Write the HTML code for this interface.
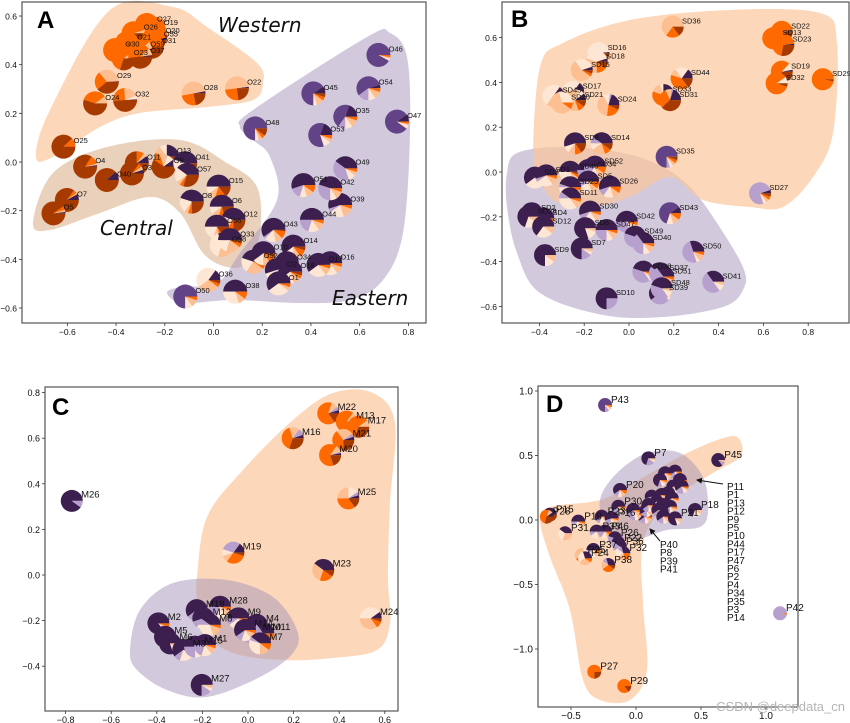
<!DOCTYPE html>
<html><head><meta charset="utf-8">
<style>
html,body{margin:0;padding:0;background:#fff;}
svg{display:block;font-family:"Liberation Sans",sans-serif;}
</style></head>
<body>
<svg id="fig" width="850" height="723" viewBox="0 0 850 723" xmlns="http://www.w3.org/2000/svg"></svg>
<script>
// slice order: dark purple, mid purple, light purple, very light peach, peach, orange, brown
const sliceColors = ['#3d1f4f','#634387','#b7a0ce','#fde6d3','#fdbf91','#ff6a00','#a73a00'];

// ---------- Panel A ----------
const aNames = ['O27','O19','O26','O20','O21','O55','O31','O30','O23','O59','O37','O29','O24','O32','O28','O22','O25',
 'O4','O11','O40','O3','O7','O5','O13','O9','O41','O57','O15','O8','O6','O12','O56','O58','O33',
 'O50','O36','O38','O52','O10','O2','O43','O14','O34','O18','O1','O16','O17','O44','O39','O51','O42','O49','O48','O53','O35','O45','O54','O46','O47'];
const aX = [-0.274,-0.246,-0.328,-0.239,-0.356,-0.246,-0.253,-0.404,-0.369,-0.301,-0.301,-0.438,-0.486,-0.363,-0.082,0.096,-0.616,
 -0.527,-0.315,-0.438,-0.335,-0.602,-0.657,-0.192,-0.205,-0.116,-0.109,0.021,-0.089,0.034,0.082,0.014,0.034,0.068,
 -0.116,-0.021,0.089,0.164,0.205,0.260,0.246,0.328,0.301,0.315,0.267,0.479,0.431,0.404,0.520,0.369,0.479,0.541,0.171,0.438,0.541,0.410,0.636,0.677,0.753];
const aY = [0.563,0.549,0.529,0.515,0.488,0.501,0.474,0.460,0.426,0.460,0.433,0.330,0.241,0.255,0.282,0.303,0.063,
 -0.019,-0.005,-0.074,-0.047,-0.156,-0.211,0.022,-0.019,-0.005,-0.053,-0.101,-0.163,-0.184,-0.238,-0.266,-0.341,-0.321,
 -0.553,-0.485,-0.533,-0.410,-0.375,-0.444,-0.279,-0.348,-0.416,-0.451,-0.499,-0.416,-0.423,-0.238,-0.177,-0.095,-0.108,-0.026,0.138,0.111,0.186,0.282,0.303,0.440,0.166];
const aComp = [
 [0,0,0,0,0,.9,.1],[0,0,0,0,0,.9,.1],[0,0,0,0,.05,.8,.15],[.02,0,0,0,0,.7,.28],[0,0,0,0,0,.85,.15],[.03,0,0,0,0,.8,.17],[0,0,0,0,0,.6,.4],[0,0,0,0,0,.8,.2],[0,0,0,0,.1,.6,.3],[.02,0,0,0,.1,.5,.38],[.02,0,0,0,.1,.4,.48],[.01,0,0,0,.35,.25,.39],[0,0,0,0,.1,.35,.55],[.01,0,0,.05,.2,.25,.49],[.03,0,0,0,.5,.25,.22],[.02,0,0,0,.5,.25,.23],[0,0,0,0,0,.12,.88],
 [.02,0,0,0,.02,.12,.84],[.1,0,0,0,.05,.1,.75],[.12,0,0,0,0,0,.88],[.05,0,0,0,.05,.05,.85],[.08,0,0,0,.02,.05,.85],[.02,0,0,0,.03,.05,.9],[.25,0,0,.1,.1,.05,.5],[.1,0,0,.1,.1,.1,.6],[.45,0,0,.2,.05,.05,.25],[.4,0,0,.2,.05,.05,.3],[.5,0,0,.1,.1,.15,.15],[.45,0,0,.2,.05,.05,.25],[.5,0,0,.1,.1,.1,.2],[.45,0,0,.1,.1,.1,.25],[.5,0,0,.2,.1,.05,.15],[.3,0,0,.4,.2,.05,.05],[.5,0,0,.2,.2,.05,.05],
 [0,.75,0,.1,.1,.05,0],[.15,0,0,.45,.3,.05,.05],[.5,0,0,.3,.1,.1,0],[.45,0,0,.2,.25,.1,0],[.6,0,0,.15,.1,.1,.05],[.55,0,0,.3,.1,.05,0],[.6,0,.03,.15,.1,.1,.02],[.6,0,0,.15,.1,.1,.05],[.6,0,0,.15,.1,.1,.05],[.6,0,0,.2,.1,.05,.05],[.6,0,0,.3,.05,.05,0],[.55,0,0,.3,.1,.05,0],[.6,0,0,.25,.1,.05,0],[.5,0,.2,.15,.1,.05,0],[.55,0,.05,.2,.15,.05,0],[.55,0,.15,.1,.1,.1,0],[.45,0,.3,.1,.1,.05,0],[.4,0,.4,.1,.05,.05,0],[0,.75,0,.05,.05,.05,.1],[.2,.6,0,.1,.05,.05,0],[.2,.45,.1,.1,.1,.05,0],[.1,.65,0,.05,.1,.05,.05],[.05,.55,.15,.1,.1,.05,0],[0,.92,0,.03,.02,.03,0],[.1,.8,0,.05,.02,.03,0]];
const aTicksX = [-0.6,-0.4,-0.2,0.0,0.2,0.4,0.6,0.8];
const aTicksY = [0.6,0.4,0.2,0.0,-0.2,-0.4,-0.6];

// ---------- Panel B ----------
const bNames = ['SD36','SD13','SD22','SD23','SD19','SD32','SD29','SD16','SD18','SD15','SD44','SD33','SD31','SD17','SD21','SD45','SD20','SD24','SD8','SD14','SD35','SD27',
 'SD3','SD1','SD46','SD34','SD52','SD5','SD25','SD26','SD11','SD30','SD2','SD4','SD28','SD12','SD6','SD9','SD7','SD47','SD42','SD49','SD40','SD43','SD50','SD38','SD37','SD51','SD10','SD39','SD48','SD41'];
const bX = [0.195,0.644,0.682,0.689,0.682,0.659,0.865,-0.137,-0.144,-0.211,0.235,0.153,0.183,-0.249,-0.241,-0.338,-0.300,-0.092,-0.241,-0.122,0.168,0.585,
 -0.420,-0.370,-0.263,-0.182,-0.152,-0.182,-0.263,-0.085,-0.263,-0.174,-0.434,-0.383,-0.449,-0.383,-0.196,-0.375,-0.211,-0.100,-0.010,0.027,0.064,0.183,0.287,0.064,0.138,0.153,-0.100,0.138,0.146,0.376];
const bY = [0.649,0.597,0.626,0.567,0.448,0.396,0.414,0.530,0.492,0.455,0.418,0.344,0.321,0.358,0.321,0.340,0.310,0.299,0.128,0.128,0.068,-0.095,
 -0.025,-0.015,0.001,0.009,0.024,-0.043,-0.068,-0.065,-0.118,-0.177,-0.184,-0.207,-0.199,-0.244,-0.251,-0.371,-0.341,-0.259,-0.222,-0.289,-0.318,-0.184,-0.356,-0.445,-0.452,-0.467,-0.564,-0.542,-0.519,-0.490];
const bComp = [
 [0,0,0,0,.65,.2,.15],[0,0,0,0,0,.95,.05],[.02,0,0,0,0,.9,.08],[.02,0,0,0,0,.7,.28],[.03,0,0,.1,0,.6,.27],[0,0,0,.1,0,.85,.05],[0,0,0,0,0,.97,.03],[.02,0,0,.5,.15,.2,.13],[.05,0,0,.4,.3,.15,.1],[.05,0,0,.3,.55,.05,.05],[.15,0,0,.2,.1,.4,.15],[.25,0,0,.05,.15,.3,.25],[.2,0,.02,0,.1,.3,.38],[.15,0,0,.3,.4,.1,.05],[.1,0,0,.1,.6,.1,.1],[.15,0,0,.5,.3,.05,0],[0,0,0,.3,.6,.1,0],[.2,0,.03,.1,.4,.2,.07],[.55,0,0,.1,.1,.1,.15],[.4,0,.1,.1,.2,.1,.1],[0,.75,.05,.05,.05,.05,.05],[.05,0,.75,.05,.05,.05,.05],
 [.6,0,0,.3,.05,.05,0],[.55,0,.05,.25,.1,.05,0],[.5,0,0,.3,.1,.05,.05],[.5,0,.1,.2,.1,.1,0],[.5,0,.15,.15,.1,.1,0],[.5,0,.1,.2,.1,.1,0],[.45,0,.05,.35,.1,.05,0],[.55,0,.1,.15,.1,.1,0],[.4,0,.1,.35,.1,.05,0],[.55,0,.1,.2,.1,.05,0],[.75,0,0,.15,.05,.05,0],[.7,0,0,.15,.1,.05,0],[.7,0,0,.2,.1,0,0],[.65,0,0,.25,.1,0,0],[.8,0,0,.15,.05,0,0],[.75,0,0,.15,.1,0,0],[.75,0,.15,.05,.05,0,0],[.5,0,.25,.1,.1,.05,0],[.5,0,.3,.1,.05,.05,0],[.45,0,.3,.1,.1,.05,0],[.35,0,.4,.1,.1,.05,0],[.1,.6,0,.1,.1,.1,0],[.3,0,.5,.05,.1,.05,0],[.45,0,.4,.05,.05,.05,0],[.4,0,.4,.1,.05,.05,0],[.35,0,.45,.1,.05,.05,0],[.75,0,.25,0,0,0,0],[.6,0,.3,.05,.05,0,0],[.45,0,.4,.1,.05,0,0],[.35,0,.5,.1,.05,0,0]];
const bTicksX = [-0.4,-0.2,0.0,0.2,0.4,0.6,0.8];
const bTicksY = [0.6,0.4,0.2,0.0,-0.2,-0.4,-0.6];

// ---------- Panel C ----------
const cNames = ['M26','M22','M13','M17','M16','M21','M20','M25','M19','M23','M24','M18','M28','M12','M8','M9','M4','M10','M11','M14','M7','M2','M5','M6','M3','M15','M1','M27'];
const cX = [-0.773,0.352,0.433,0.484,0.196,0.418,0.360,0.440,-0.064,0.330,0.538,-0.225,-0.123,-0.196,-0.167,-0.042,0.038,0.023,0.067,-0.013,0.053,-0.393,-0.364,-0.342,-0.284,-0.232,-0.189,-0.203];
const cY = [0.325,0.709,0.673,0.650,0.600,0.592,0.526,0.336,0.098,0.022,-0.190,-0.154,-0.139,-0.190,-0.219,-0.190,-0.219,-0.256,-0.256,-0.241,-0.300,-0.212,-0.271,-0.300,-0.329,-0.314,-0.307,-0.482];
const cComp = [
 [.9,0,.1,0,0,0,0],[.05,0,.05,0,.1,.65,.15],[0,0,0,.05,.1,.75,.1],[0,0,0,0,.1,.6,.3],[.05,0,.1,0,.15,.4,.3],[.05,0,.05,0,.25,.4,.25],[.03,0,.02,0,.1,.65,.2],[.05,0,.05,.15,.25,.35,.15],[.15,0,.3,.1,.1,.3,.05],[.4,0,0,0,.3,.2,.1],[.1,0,0,.4,.35,.1,.05],
 [.6,0,.1,.15,.1,.05,0],[.5,0,.2,.15,.1,.05,0],[.55,0,.1,.2,.1,.05,0],[.4,0,.1,.3,.15,.05,0],[.5,0,.1,.2,.15,.05,0],[.5,0,.2,.1,.1,.1,0],[.5,0,.2,.15,.1,.05,0],[.35,0,.2,.2,.15,.1,0],[.6,0,.1,.15,.1,.05,0],[.4,0,.05,.3,.15,.1,0],[.85,0,0,.05,.05,.05,0],[.75,0,0,.1,.1,.05,0],[.8,0,0,.1,.1,0,0],[.6,0,.1,.2,.1,0,0],[.5,0,.25,.15,.1,0,0],[.5,0,.2,.15,.1,.05,0],[.75,0,.15,.05,.05,0,0]];
const cTicksX = [-0.8,-0.6,-0.4,-0.2,0.0,0.2,0.4,0.6];
const cTicksY = [0.8,0.6,0.4,0.2,0.0,-0.2,-0.4];

// ---------- Panel D ----------
const dNames = ['P43','P7','P45','P20','P30','P15','P28','P19','P23','P16','P31','P33','P46','P26','P22','P36','P32','P37','P25','P24','P38','P40','P8','P39','P41',
 'P11','P1','P13','P12','P9','P5','P10','P44','P17','P47','P6','P2','P4','P34','P35','P3','P14','P21','P18','P42','P27','P29'];
const dX = [-0.238,0.095,0.633,-0.123,-0.136,-0.662,-0.687,-0.444,-0.264,-0.187,-0.546,-0.303,-0.238,-0.162,-0.136,-0.123,-0.097,-0.328,-0.418,-0.392,-0.213,0.069,-0.008,-0.021,0.082,
 0.300,0.223,0.338,0.185,0.287,0.351,0.248,0.197,0.275,0.121,0.159,0.210,0.262,0.095,0.197,0.172,0.210,0.300,0.454,1.108,-0.321,-0.090];
const dY = [0.891,0.478,0.465,0.233,0.103,0.041,0.026,-0.013,0.026,0.013,-0.103,-0.090,-0.090,-0.142,-0.181,-0.207,-0.258,-0.233,-0.271,-0.297,-0.349,0.026,0.052,0.078,0.078,
 0.375,0.362,0.310,0.310,0.259,0.259,0.207,0.194,0.168,0.181,0.142,0.116,0.103,0.116,0.064,0.078,0.026,0.013,0.078,-0.723,-1.176,-1.287];
const dComp = [
 [0,.75,.1,.05,.05,.05,0],[.7,0,.2,.05,.05,0,0],[.85,0,.1,0,.05,0,0],[.6,0,.1,.1,.1,.1,0],[.6,0,.15,.1,.1,.05,0],[.4,0,0,0,.05,.05,.5],[.1,0,0,0,.1,.5,.3],[.5,0,.1,.2,.15,.05,0],[.6,0,.1,.15,.1,.05,0],[.55,0,.15,.15,.1,.05,0],[.4,0,0,.3,.3,0,0],[.5,0,.1,.2,.1,.1,0],[.5,0,.15,.15,.1,.1,0],[.45,0,.2,.15,.1,.1,0],[.45,0,.2,.15,.1,.1,0],[.4,0,.2,.2,.1,.1,0],[.3,0,.1,.2,.2,.2,0],[.5,0,.1,.2,.1,.1,0],[0,0,0,.2,.4,.4,0],[.3,0,0,.3,.3,.1,0],[.3,0,.1,0,.2,.3,.1],[.6,0,.15,.1,.1,.05,0],[.6,0,.15,.1,.1,.05,0],[.6,0,.15,.1,.1,.05,0],[.6,0,.15,.1,.1,.05,0],
 [.6,0,.15,.1,.1,.05,0],[.65,0,.1,.1,.1,.05,0],[.6,0,.2,.1,.05,.05,0],[.7,0,.1,.1,.05,.05,0],[.6,0,.15,.1,.1,.05,0],[.6,0,.2,.1,.05,.05,0],[.65,0,.15,.1,.05,.05,0],[.6,0,.15,.1,.1,.05,0],[.6,0,.15,.1,.1,.05,0],[.55,0,.2,.1,.1,.05,0],[.6,0,.15,.1,.1,.05,0],[.6,0,.15,.1,.1,.05,0],[.6,0,.15,.1,.1,.05,0],[.6,0,.15,.1,.1,.05,0],[.6,0,.15,.1,.1,.05,0],[.6,0,.15,.1,.1,.05,0],[.6,0,.15,.1,.1,.05,0],[.8,0,0,.1,.1,0,0],[.7,0,0,.2,.1,0,0],[0,0,.97,0,0,.03,0],[0,0,0,0,0,.75,.25],[0,0,0,0,0,.85,.15]];
const dTicksX = [-0.5,0.0,0.5,1.0];
const dTicksY = [1.0,0.5,0.0,-0.5,-1.0];
const dListRight = ['P11','P1','P13','P12','P9','P5','P10','P44','P17','P47','P6','P2','P4','P34','P35','P3','P14'];
const dListMid = ['P40','P8','P39','P41'];

const NS = 'http://www.w3.org/2000/svg';
const svg = document.getElementById('fig');
function mk(tag, attrs, parent){
  const e = document.createElementNS(NS, tag);
  for (const k in attrs) e.setAttribute(k, attrs[k]);
  (parent || svg).appendChild(e);
  return e;
}
function smooth(pts){
  const n = pts.length; let d = 'M' + pts[0][0] + ',' + pts[0][1];
  for (let i = 0; i < n; i++){
    const p0 = pts[(i-1+n)%n], p1 = pts[i], p2 = pts[(i+1)%n], p3 = pts[(i+2)%n];
    const c1 = [p1[0]+(p2[0]-p0[0])/6, p1[1]+(p2[1]-p0[1])/6];
    const c2 = [p2[0]-(p3[0]-p1[0])/6, p2[1]-(p3[1]-p1[1])/6];
    d += 'C' + c1.join(',') + ' ' + c2.join(',') + ' ' + p2.join(',');
  }
  return d + 'Z';
}
function hull(g, pts, fill, name){
  const p = mk('path', {d: smooth(pts), fill: fill}, g);
  
  
}
function pie(g, cx, cy, r, fr, name){
  const pg = mk('g', {}, g);
  
  
  const tot = fr.reduce((a,b)=>a+b,0);
  let a0 = 0;
  fr.forEach((f, i) => {
    if (f <= 0) return;
    const a1 = a0 + f/tot*2*Math.PI;
    if (f/tot > 0.999){
      mk('circle', {cx:cx, cy:cy, r:r, fill:sliceColors[i]}, pg);
    } else {
      const x0 = cx + r*Math.cos(a0), y0 = cy - r*Math.sin(a0);
      const x1 = cx + r*Math.cos(a1), y1 = cy - r*Math.sin(a1);
      const large = (a1-a0) > Math.PI ? 1 : 0;
      mk('path', {d:`M${cx},${cy}L${x0.toFixed(2)},${y0.toFixed(2)}A${r},${r} 0 ${large} 0 ${x1.toFixed(2)},${y1.toFixed(2)}Z`, fill:sliceColors[i]}, pg);
    }
    a0 = a1;
  });
}
function panel(cfg){
  const g = mk('g', {});
  
  
  const sx = v => cfg.x0 + cfg.sx*v;
  const sy = v => cfg.y0 - cfg.sy*v;
  const [fx0, fy0, fx1, fy1] = cfg.frame;
  cfg.hulls.forEach(h => hull(g, h[0], h[1], h[2]));
  if (cfg.texts) cfg.texts.forEach(t => {
    const e = mk('text', {x:t[1], y:t[2], 'font-size':t[3], 'font-style':'italic', fill:'#111', 'font-family':'"DejaVu Sans","Liberation Sans",sans-serif'}, g);
    e.textContent = t[0];
    
    
  });
  cfg.names.forEach((n, i) => {
    pie(g, sx(cfg.xs[i]), sy(cfg.ys[i]), cfg.r, cfg.comp[i], 'pie-' + n.toLowerCase());
  });
  cfg.names.forEach((n, i) => {
    if (cfg.skipLabel && cfg.skipLabel.includes(n)) return;
    const t = mk('text', {x: sx(cfg.xs[i]) + cfg.r*0.85, y: sy(cfg.ys[i]) - cfg.r*0.3, 'font-size': cfg.fs, fill:'#111'}, g);
    t.textContent = n;
    
    
  });
  const fr = mk('rect', {x:fx0, y:fy0, width:fx1-fx0, height:fy1-fy0, fill:'none', stroke:'#555', 'stroke-width':1.2}, g);
  
  
  cfg.tx.forEach(v => {
    const x = sx(v);
    mk('line', {x1:x, x2:x, y1:fy1, y2:fy1+3, stroke:'#333', 'stroke-width':0.8}, g);
    const t = mk('text', {x:x, y:fy1+12, 'font-size':cfg.tfs, 'text-anchor':'middle', fill:'#111'}, g);
    t.textContent = (v < 0 ? '\u2212' : '') + Math.abs(v).toFixed(1);
    
    
  });
  cfg.ty.forEach(v => {
    const y = sy(v);
    mk('line', {x1:fx0-3, x2:fx0, y1:y, y2:y, stroke:'#333', 'stroke-width':0.8}, g);
    const t = mk('text', {x:fx0-5, y:y+3.5, 'font-size':cfg.tfs, 'text-anchor':'end', fill:'#111'}, g);
    t.textContent = (v < 0 ? '\u2212' : '') + Math.abs(v).toFixed(1);
    
    
  });
  const L = mk('text', {x:cfg.letter[1], y:cfg.letter[2], 'font-size':24, 'font-weight':'bold', fill:'#000'}, g);
  L.textContent = cfg.letter[0];
  
  
  return g;
}
const OR = 'rgba(252,196,152,0.68)', PU = 'rgba(165,150,185,0.5)', TN = 'rgba(225,190,160,0.7)';

panel({name:'panel-a', x0:213.5, sx:243.6, y0:162, sy:243.3, frame:[22,2,426,323], r:12, fs:7.5, tfs:8.5,
  names:aNames, xs:aX, ys:aY, comp:aComp, tx:aTicksX, ty:aTicksY, letter:['A',37,28],
  hulls:[
   [[[36,157],[50,110],[110,10],[173,7],[207,27],[257,63],[263,83],[253,100],[207,107],[140,113],[100,127],[53,157]], OR, 'western-region'],
   [[[33,223],[53,173],[107,147],[180,140],[227,163],[257,187],[260,233],[247,263],[227,267],[203,253],[180,213],[150,197],[100,213],[50,230]], TN, 'central-region'],
   [[[240,127],[253,110],[367,37],[390,33],[407,57],[410,133],[403,233],[383,280],[350,300],[300,303],[233,300],[183,303],[167,293],[180,287],[217,283],[240,253],[277,200],[270,157],[253,140]], PU, 'eastern-region']],
  texts:[['Western',218,32,20,'western-label'],['Central',100,235,20,'central-label'],['Eastern',332,305,20,'eastern-label']]});

panel({name:'panel-b', x0:629, sx:224, y0:172, sy:224, frame:[502,2,849,323], r:11, fs:7.5, tfs:8.5,
  names:bNames, xs:bX, ys:bY, comp:bComp, tx:bTicksX, ty:bTicksY, letter:['B',511,27],
  hulls:[
   [[[507,173],[517,153],[563,147],[623,153],[663,167],[690,187],[713,217],[743,267],[743,290],[723,307],[663,317],[603,315],[540,293],[517,253],[507,207]], PU, 'purple-region'],
   [[[533,157],[540,67],[563,43],[630,20],[730,10],[820,13],[837,43],[833,133],[813,177],[783,207],[750,207],[703,200],[670,177],[630,197],[590,207],[553,200],[540,177]], OR, 'orange-region']]});

panel({name:'panel-c', x0:248, sx:228, y0:575, sy:228, frame:[45,387,398,711], r:11, fs:9.5, tfs:9,
  names:cNames, xs:cX, ys:cY, comp:cComp, tx:cTicksX, ty:cTicksY, letter:['C',52,415],
  hulls:[
   [[[197,577],[207,517],[243,470],[293,420],[333,393],[373,393],[395,423],[390,503],[388,577],[390,623],[377,650],[333,658],[283,660],[233,653],[200,630],[197,603]], OR, 'orange-region'],
   [[[130,650],[140,610],[173,583],[227,580],[273,597],[297,630],[293,653],[260,677],[207,697],[167,690],[137,670]], PU, 'purple-region']]});

const gD = panel({name:'panel-d', x0:636, sx:130, y0:520, sy:129, frame:[538,386,798,707], r:7, fs:10, tfs:10,
  names:dNames, xs:dX, ys:dY, comp:dComp, tx:dTicksX, ty:dTicksY, letter:['D',546,412],
  skipLabel: dListRight.concat(dListMid),
  hulls:[
   [[[540,520],[550,507],[600,500],[633,483],[687,453],[727,437],[740,440],[740,457],[713,473],[667,503],[643,543],[643,603],[647,670],[630,700],[600,700],[583,680],[570,610],[550,557]], OR, 'orange-region'],
   [[[600,500],[617,473],[647,453],[680,453],[703,477],[708,510],[700,527],[667,530],[633,540],[607,530]], PU, 'purple-region']]});

dListRight.forEach((n, i) => {
  const t = mk('text', {x:727, y:490 + i*8.2, 'font-size':10, fill:'#111'}, gD);
  t.textContent = n;
  
  
});
dListMid.forEach((n, i) => {
  const t = mk('text', {x:660, y:548 + i*8.2, 'font-size':10, fill:'#111'}, gD);
  t.textContent = n;
  
  
});
const defs = mk('defs', {});
const mkr = mk('marker', {id:'ah', markerWidth:6, markerHeight:6, refX:5, refY:3, orient:'auto'}, defs);
mk('path', {d:'M0,0L6,3L0,6Z', fill:'#111'}, mkr);
const ar1 = mk('line', {x1:723, y1:484, x2:697, y2:480, stroke:'#111', 'stroke-width':1, 'marker-end':'url(#ah)'}, gD);


const ar2 = mk('line', {x1:660, y1:541, x2:650, y2:529, stroke:'#111', 'stroke-width':1, 'marker-end':'url(#ah)'}, gD);



const wm = mk('text', {x:845, y:711, 'font-size':13, 'text-anchor':'end', fill:'#b5b5b5'});
wm.textContent = 'CSDN @deepdata_cn';


</script>
</body></html>
